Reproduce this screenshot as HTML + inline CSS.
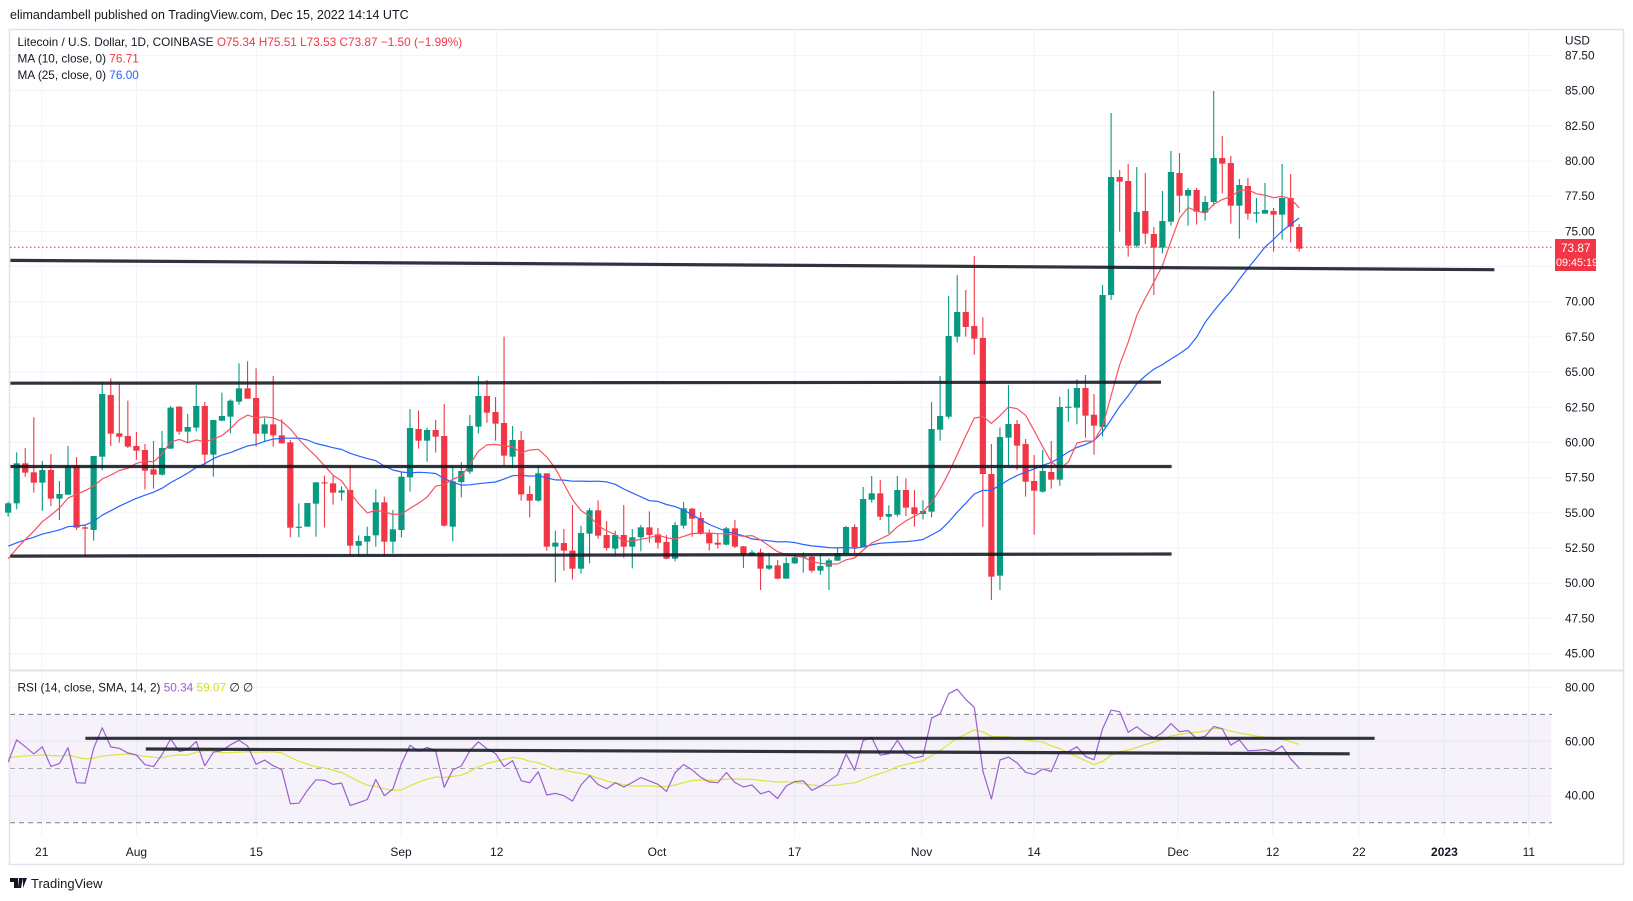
<!DOCTYPE html>
<html><head><meta charset="utf-8"><style>
html,body{margin:0;padding:0;background:#fff;}
svg{display:block;font-family:"Liberation Sans",sans-serif;}
</style></head><body>
<svg id="s" width="1633" height="901" viewBox="0 0 1633 901" xmlns="http://www.w3.org/2000/svg">
<rect x="0" y="0" width="1633" height="901" fill="#fff"/>
<g id="grid"></g>
<rect x="10.4" y="714.4" width="1541" height="108.3" fill="#7e57c2" fill-opacity="0.08"/>
<line x1="10" y1="714.4" x2="1552" y2="714.4" stroke="#787b86" stroke-dasharray="5,4" stroke-width="1"/>
<line x1="10" y1="768.5" x2="1552" y2="768.5" stroke="#787b86" stroke-opacity="0.6" stroke-dasharray="5,4" stroke-width="1"/>
<line x1="10" y1="822.7" x2="1552" y2="822.7" stroke="#787b86" stroke-dasharray="5,4" stroke-width="1"/>
<line x1="9" y1="670.5" x2="1624" y2="670.5" stroke="#e0e3eb" stroke-width="2"/>
<rect x="9.5" y="29.5" width="1614" height="835" fill="none" stroke="#e0e3eb" stroke-width="1.5"/>
<g id="candles"></g>
<g id="lines"></g>
<line x1="10" y1="247.3" x2="1552" y2="247.3" stroke="#f23645" stroke-width="1" stroke-dasharray="1.5,2.5"/>
<g stroke="#131722" stroke-opacity="0.88" stroke-width="3.2" stroke-linecap="butt">
<line x1="10.4" y1="260.4" x2="1494.4" y2="269.7"/>
<line x1="10.4" y1="383.2" x2="1161" y2="382.2"/>
<line x1="10.4" y1="466.5" x2="1171.6" y2="466.5"/>
<line x1="10.4" y1="556.1" x2="1171.6" y2="554"/>
<line x1="85.4" y1="738.3" x2="1374.6" y2="738.3"/>
<line x1="145.8" y1="749" x2="1349.7" y2="753.8"/>
</g>
<text x="10" y="19" font-size="12.5" fill="#131722">elimandambell published on TradingView.com, Dec 15, 2022 14:14 UTC</text>
<g font-size="11.8" fill="#131722">
<text x="17.5" y="46">Litecoin / U.S. Dollar, 1D, COINBASE <tspan fill="#f23645">O75.34</tspan> <tspan fill="#f23645">H75.51</tspan> <tspan fill="#f23645">L73.53</tspan> <tspan fill="#f23645">C73.87</tspan> <tspan fill="#f23645">−1.50 (−1.99%)</tspan></text>
<text x="17.5" y="62.5">MA (10, close, 0) <tspan fill="#f23645">76.71</tspan></text>
<text x="17.5" y="79">MA (25, close, 0) <tspan fill="#2962ff">76.00</tspan></text>
<text x="17.5" y="691.5">RSI (14, close, SMA, 14, 2) <tspan fill="#9c5fd0">50.34</tspan> <tspan fill="#d8e020">59.07</tspan> ∅ ∅</text>
</g>
<g id="paxis" font-size="11.8" fill="#131722"></g>
<text x="1565" y="44.5" font-size="11.8" fill="#131722">USD</text>
<rect x="1555" y="239" width="41" height="32" fill="#f23645"/>
<text x="1561" y="252" font-size="11.8" fill="#fff">73.87</text>
<text x="1556" y="266" font-size="10.8" fill="#fff">09:45:19</text>
<g font-size="11.8" fill="#131722">
<text x="1565" y="691.5">80.00</text>
<text x="1565" y="745.5">60.00</text>
<text x="1565" y="799.5">40.00</text>
</g>
<g font-size="12" fill="#131722" text-anchor="middle">
<text x="41.7" y="856">21</text><text x="136.4" y="856">Aug</text><text x="256.2" y="856">15</text>
<text x="401" y="856">Sep</text><text x="496.7" y="856">12</text><text x="657" y="856">Oct</text>
<text x="794.6" y="856">17</text><text x="921.6" y="856">Nov</text><text x="1034" y="856">14</text>
<text x="1178" y="856">Dec</text><text x="1272.6" y="856">12</text><text x="1359" y="856">22</text>
<text x="1444.4" y="856" font-weight="bold">2023</text><text x="1528.8" y="856">11</text>
</g>
<g transform="translate(10,878)" fill="#131722">
<path d="M0 0h8v10h-4v-6h-4z M9 0h4l-2 10h-3z M13 0h4l-4 10z"/>
</g>
<text x="31" y="888" font-size="13" fill="#131722">TradingView</text>
</svg>
<script>
(function(){
var NS="http://www.w3.org/2000/svg";
function el(p,t,a){var e=document.createElementNS(NS,t);for(var k in a)e.setAttribute(k,a[k]);p.appendChild(e);return e;}
var grid=document.getElementById('grid');
function py(p){return 583.2-(p-50)*14.074;}
var pax=document.getElementById('paxis');
for(var p=45;p<=87.5;p+=2.5){var y=py(p);el(grid,'line',{x1:10,y1:y,x2:1552,y2:y,stroke:'#f0f3fa','stroke-width':1});
 var t=el(pax,'text',{x:1565,y:y+4});t.textContent=p.toFixed(2);}
[687.3,741.4,795.6].forEach(function(y){el(grid,'line',{x1:10,y1:y,x2:1552,y2:y,stroke:'#f0f3fa','stroke-width':1});});
[41.7,136.4,256.2,401,496.7,657,794.6,921.6,1034,1178,1272.6,1359,1444.4,1528.8].forEach(function(x){el(grid,'line',{x1:x,y1:30,x2:x,y2:836,stroke:'#f0f3fa','stroke-width':1});});
var s1=[[548,520,515,560],[520,400,367,538],[400,428,354,440],[427,458,262,488],[458,420,393,542],[420,506,372,528],[506,492,453,570],[494,408,348,494],[406,593,381,600],[592,596,586,680],[600,378,378,632],[380,192,155,420],[195,311,145,348],[310,320,158,338],[318,350,212,354],
[348,362,306,390],[360,422,342,478],[418,434,333,476],[434,354,303,437],[356,233,228,356],[230,305,228,314],[305,291,252,340],[293,228,165,304],[228,374,216,408],[374,270,270,440],[272,258,188,274],[260,212,208,310],[215,175,100,224],[175,206,94,206],[204,311,115,350],[311,283,264,334],[283,316,138,350],[316,340,268,340],[337,593,330,622],[593,590,520,622],[590,519,519,590],[521,457,457,620],[457,460,437,592],[460,488,436,524],[488,481,469,512],[480,647,408,680],[647,633,616,680],[635,618,590,675],[616,517,478,650],[517,635,500,680],[635,598,540,670]];
var s2=[[630,470,455,652],[472,324,267,515],[327,362,272,386],[362,330,323,425],[330,350,300,398],[348,617,252,620],[620,484,441,664],[486,453,426,532],[455,318,285,462],[320,228,168,340],[228,278,180,308],[276,311,231,362],[309,407,50,437],[410,360,318,443],[360,523,333,542],[522,542,498,592],[542,460,436,545],[460,680,460,692],[680,668,632,787],[669,692,627,752],[692,746,555,778],[746,639,617,760],[641,571,564,730],[571,647,541,656],[645,684,603,692],[686,645,632,710],[645,680,555,713],[680,652,627,745],[652,622,615,694],[622,645,574,668],
[643,668,624,686],[666,716,645,718],[716,615,606,724],[617,565,546,626],[566,596,563,650],[594,641,576,644],[640,670,628,692],[668,674,641,686],[674,625,621,676],[625,680,600,684],[679,706,678,744],[706,697,690,708],[697,746,686,810],[746,736,698,750],[736,776,720,778],[776,729,712,776],[730,712,700,732]];
var s3=[[951,949,937,998],[950,992,945,998],[992,978,942,1004],[980,961,955,1050],[962,940,925,950],[942,861,858,945],[861,922,853,940],[922,777,741,922],[779,760,708,788],[760,830,720,840],[830,822,796,880],[824,750,708,830],[750,803,715,828],[802,822,750,860],
[822,813,781,838],[815,567,486,832],[569,528,408,602],[530,288,168,536],[290,216,105,307],[216,261,150,290],[258,296,48,344],[294,702,232,860],[702,1010,612,1080],[1007,591,562,1050],[593,552,435,676],[552,617,540,690],[612,725,597,770],[723,752,645,884],[755,693,630,758],[696,719,603,746],[719,501,470,737],[501,500,447,545],[503,444,418,553],[444,527,405,593],[524,557,462,644]];
var s4=[[1041,645,615,1070],[645,291,99,660],[291,305,270,455],[303,497,252,530],[497,396,261,503],[393,461,279,492],[462,503,441,645],[503,423,333,520],[425,276,213,437],[279,347,219,398],[347,330,324,437],[330,395,324,434],[398,366,348,422],[366,234,33,377],[234,251,168,341],[249,377,228,431],[377,315,297,476],[318,401,294,419],[401,397,354,428],[401,390,309,401],[393,404,384,515],[404,354,252,479],[354,440,282,488],[441,506,432,515]];
var D=[];
function add(s,b,sc){s.forEach(function(c){D.push(c.map(function(v){return b+v/sc;}));});}
add(s1,330,3);add(s2,320,3);add(s3,240,3);add(s4,80,3);
var cg=document.getElementById('candles');
var X=[];
for(var i=0;i<D.length;i++){
 var x=136.4+8.55*(i-15);X.push(x);
 var c=D[i],o=c[0],cl=c[1],h=Math.min(c[2],o,cl),l=Math.max(c[3],o,cl);
 var up=cl<=o;var col=up?'#089981':'#f23645';
 el(cg,'line',{x1:x,y1:h,x2:x,y2:l,stroke:col,'stroke-width':1.1});
 var bt=Math.min(o,cl),hh=Math.max(Math.abs(o-cl),1.2);
 el(cg,'rect',{x:x-3.1,y:bt,width:6.2,height:hh,fill:col});
}
var closes=D.map(function(c){return c[1];});
function ma(n,pad){var out=[];for(var i=0;i<closes.length;i++){var s=0;for(var k=i-n+1;k<=i;k++){s+=k>=0?closes[k]:pad;}out.push(s/n);}return out;}
var lg=document.getElementById('lines');
function poly(xs,ys,col,w){var pts=[];for(var i=0;i<ys.length;i++){pts.push(xs[i].toFixed(1)+','+ys[i].toFixed(1));}el(lg,'polyline',{points:pts.join(' '),fill:'none',stroke:col,'stroke-width':w,'stroke-linejoin':'round'});}
poly(X,ma(25,548),'#2962ff',1.2);
poly(X,ma(10,565),'#f7525f',1.2);
var pr=closes.map(function(y){return (583.2-y)/14.074+50;});
var ag=0.55,al=0.5,rsi=[];
rsi.push(100-100/(1+ag/al));
for(var i=1;i<pr.length;i++){var d=pr[i]-pr[i-1];var g=d>0?d:0,l=d<0?-d:0;ag=(ag*13+g)/14;al=(al*13+l)/14;rsi.push(100-100/(1+ag/al));}
function ry(v){return 687.3+(80-v)*2.7075;}
var rs=[],rsa=[];
for(var i=0;i<rsi.length;i++){var s=0,n=0;for(var k=Math.max(0,i-13);k<=i;k++){s+=rsi[k];n++;}var m=(s+(14-n)*54)/14;rsa.push(ry(m));rs.push(ry(rsi[i]));}
poly(X,rsa,'#dbe53a',1.2);
poly(X,rs,'#9c5fd0',1.2);
})();
</script>
</body></html>
